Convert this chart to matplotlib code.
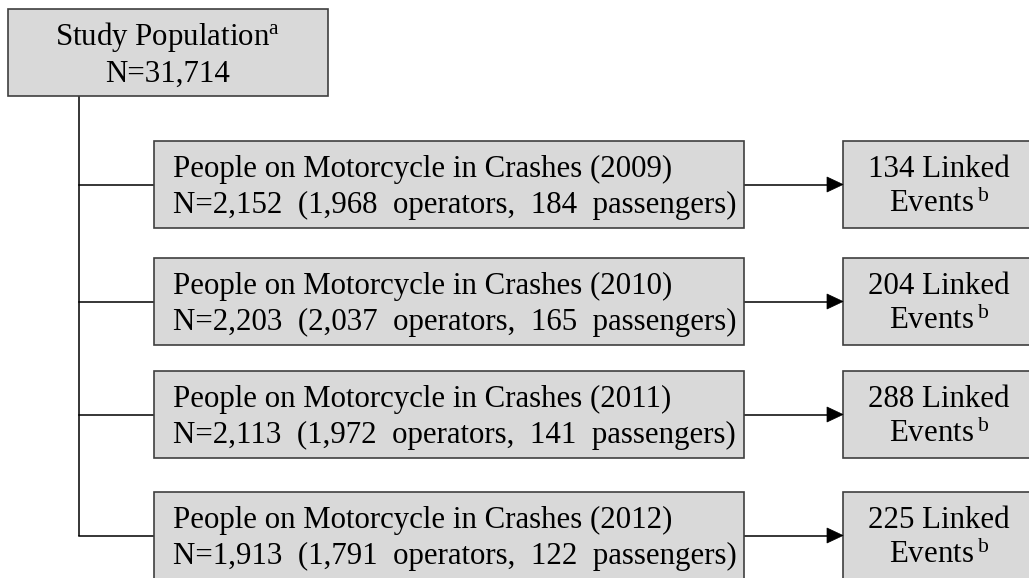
import matplotlib
matplotlib.use("Agg")
import matplotlib.pyplot as plt
from matplotlib.patches import Rectangle, Polygon

plt.rcParams['font.family'] = ['Liberation Serif', 'DejaVu Serif']
plt.rcParams['mathtext.fontset'] = 'custom'
plt.rcParams['mathtext.rm'] = 'Liberation Serif'
plt.rcParams['mathtext.it'] = 'Liberation Serif:italic'

# ---- data ----
study_n = "31,714"
years = ["2009", "2010", "2011", "2012"]
totals = ["2,152", "2,203", "2,113", "1,913"]
operators = ["1,968", "2,037", "1,972", "1,791"]
passengers = ["184", "165", "141", "122"]
linked_events = [134, 204, 288, 225]

# ---- layout (pixels) ----
W, H = 1029, 578
fig = plt.figure(figsize=(W / 100, H / 100), dpi=100)
ax = fig.add_axes([0, 0, 1, 1])
ax.set_xlim(0, W)
ax.set_ylim(H, 0)
ax.axis('off')

FILL = '#d9d9d9'
EDGE = '#3f3f3f'
FS = 22.2

def box(x0, y0, x1, y1):
    ax.add_patch(Rectangle((x0, y0), x1 - x0, y1 - y0, facecolor=FILL,
                           edgecolor=EDGE, linewidth=1.2, zorder=2))

# top box
top = (8, 9, 328, 96)
box(*top)
cx = (top[0] + top[2]) / 2
ax.text(cx, top[1] + 36, r"Study Population$^{\mathrm{a}}$", ha='center',
        va='baseline', fontsize=FS, zorder=3)
ax.text(cx, top[1] + 73, f"N={study_n}", ha='center', va='baseline',
        fontsize=FS, zorder=3)

trunk_x = 79
mid_x0, mid_x1 = 154, 744
right_x0, right_x1 = 843, 1035
box_tops = [141, 258, 371, 492]
box_h = 87

centers = [t + box_h / 2 for t in box_tops]
ax.plot([trunk_x, trunk_x], [top[3], centers[-1]], color='black', lw=1.1,
        zorder=1, solid_capstyle='butt')

for i, t in enumerate(box_tops):
    cy = t + box_h / 2
    # branch
    ax.plot([trunk_x, mid_x0], [cy, cy], color='black', lw=1.1, zorder=1)
    # middle box
    box(mid_x0, t, mid_x1, t + box_h)
    ax.text(mid_x0 + 19, t + 36,
            f"People on Motorcycle in Crashes ({years[i]})",
            ha='left', va='baseline', fontsize=FS, zorder=3)
    ax.text(mid_x0 + 19, t + 72,
            f"N={totals[i]}  ({operators[i]}  operators,  {passengers[i]}  passengers)",
            ha='left', va='baseline', fontsize=FS, zorder=3)
    # arrow
    ax.plot([mid_x1, right_x0 - 15], [cy, cy], color='black', lw=1.1, zorder=1)
    ax.add_patch(Polygon([[right_x0 - 16, cy - 7.5], [right_x0, cy],
                          [right_x0 - 16, cy + 7.5]], closed=True,
                         facecolor='black', edgecolor='black', lw=0.5, zorder=3))
    # right box
    box(right_x0, t, right_x1, t + box_h)
    rcx = (right_x0 + right_x1) / 2
    ax.text(rcx, t + 36, f"{linked_events[i]} Linked", ha='center',
            va='baseline', fontsize=FS, zorder=3)
    ax.text(rcx, t + 71, r"Events$\,^{\mathrm{b}}$", ha='center',
            va='baseline', fontsize=FS, zorder=3)

fig.savefig("out.png", dpi=100)
